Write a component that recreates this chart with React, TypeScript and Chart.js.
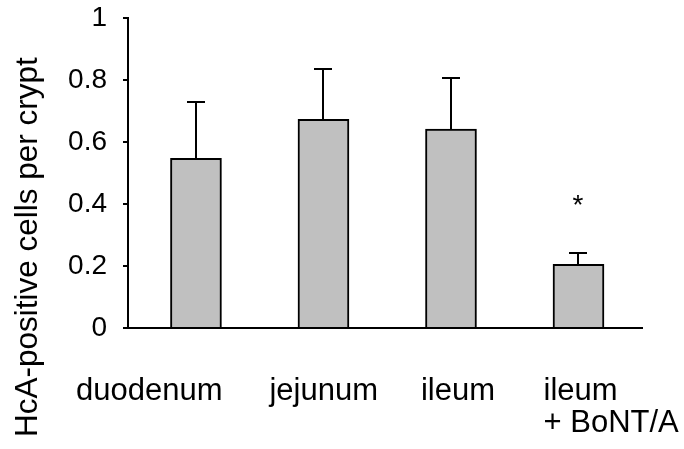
import React, { useEffect, useRef } from 'react';
import { Chart, registerables } from 'chart.js';

Chart.register(...registerables);

// ---- data ----
const categories = ['duodenum', 'jejunum', 'ileum', 'ileum\n+ BoNT/A'];
const means = [0.547, 0.673, 0.642, 0.205];
const errors = [0.183, 0.162, 0.164, 0.036];
const significance = ['', '', '', '*'];
const significanceLevel = 0.413;
const yTicks = [0, 0.2, 0.4, 0.6, 0.8, 1];
const yTitle = 'HcA-positive cells per crypt';

// ---- layout / style ----
const FONT = '"Liberation Sans", Arial, Helvetica, sans-serif';
const labelLeftOffsets = [-120, -54, -30, -35];
const LABEL_BASELINE = 400;
const LABEL_LINE = 32;

const annotate = {
  id: 'annotate',
  afterDatasetsDraw(chart: any) {
    const { ctx, scales } = chart;
    const x = scales.x;
    const y = scales.y;
    ctx.save();
    ctx.strokeStyle = '#000';
    ctx.lineWidth = 2;
    means.forEach((m, i) => {
      const cx = Math.round(x.getPixelForValue(i));
      const yTop = y.getPixelForValue(m);
      const yErr = Math.round(y.getPixelForValue(m + errors[i]));
      ctx.beginPath();
      ctx.moveTo(cx, yTop);
      ctx.lineTo(cx, yErr);
      ctx.moveTo(cx - 9, yErr);
      ctx.lineTo(cx + 9, yErr);
      ctx.stroke();
      if (significance[i]) {
        ctx.fillStyle = '#000';
        ctx.font = `28px ${FONT}`;
        ctx.textAlign = 'center';
        ctx.textBaseline = 'alphabetic';
        const mt = ctx.measureText(significance[i]);
        const cy = y.getPixelForValue(significanceLevel);
        const base = cy + (mt.actualBoundingBoxAscent - mt.actualBoundingBoxDescent) / 2;
        ctx.fillText(significance[i], cx, base);
      }
    });
    ctx.restore();
  },
  afterDraw(chart: any) {
    const { ctx, scales } = chart;
    const x = scales.x;
    ctx.save();
    ctx.fillStyle = '#000';
    ctx.font = `31px ${FONT}`;
    ctx.textAlign = 'left';
    ctx.textBaseline = 'alphabetic';
    categories.forEach((c, i) => {
      const cx = x.getPixelForValue(i);
      c.split('\n').forEach((line, j) => {
        ctx.fillText(line, cx + labelLeftOffsets[i], LABEL_BASELINE + j * LABEL_LINE);
      });
    });
    // y title
    ctx.font = `31.5px ${FONT}`;
    ctx.translate(37, 437);
    ctx.rotate(-Math.PI / 2);
    ctx.fillText(yTitle, 0, 0);
    ctx.restore();
  },
};

export default function App() {
  const ref = useRef<HTMLCanvasElement | null>(null);
  useEffect(() => {
    if (!ref.current) return;
    const chart = new Chart(ref.current, {
      type: 'bar',
      data: {
        datasets: [
          {
            data: means.map((m, i) => ({ x: i, y: m })),
            backgroundColor: '#c0c0c0',
            borderColor: '#000',
            borderWidth: 2,
            barThickness: 51,
          },
        ],
      },
      options: {
        animation: false,
        responsive: false,
        layout: { padding: { top: 18, right: 42, left: 0, bottom: 0 } },
        plugins: { legend: { display: false }, tooltip: { enabled: false } },
        scales: {
          x: {
            type: 'linear',
            offset: false,
            min: -0.533,
            max: 3.498,
            ticks: { display: false },
            grid: { display: false, offset: false },
            border: { display: true, color: '#000', width: 2 },
            afterFit: (s: any) => {
              s.height = 121;
              s.paddingLeft = 0;
              s.paddingRight = 0;
            },
          },
          y: {
            min: 0,
            max: 1,
            afterBuildTicks: (s: any) => {
              s.ticks = yTicks.map((v) => ({ value: v }));
            },
            ticks: {
              color: '#000',
              font: { family: FONT, size: 28 },
              padding: 16,
              callback: (v: any) => String(v),
            },
            grid: { drawOnChartArea: false, drawTicks: true, tickLength: 5, color: '#000', lineWidth: 2 },
            border: { display: true, color: '#000', width: 2 },
            afterFit: (s: any) => {
              s.width = 128;
              s.paddingTop = 0;
              s.paddingBottom = 0;
            },
          },
        },
      },
      plugins: [annotate],
    });
    return () => chart.destroy();
  }, []);
  return (
    <div style={{ position: 'absolute', left: 0, top: 0, width: 684, height: 449, background: '#fff' }}>
      <canvas ref={ref} width={684} height={449} />
    </div>
  );
}
